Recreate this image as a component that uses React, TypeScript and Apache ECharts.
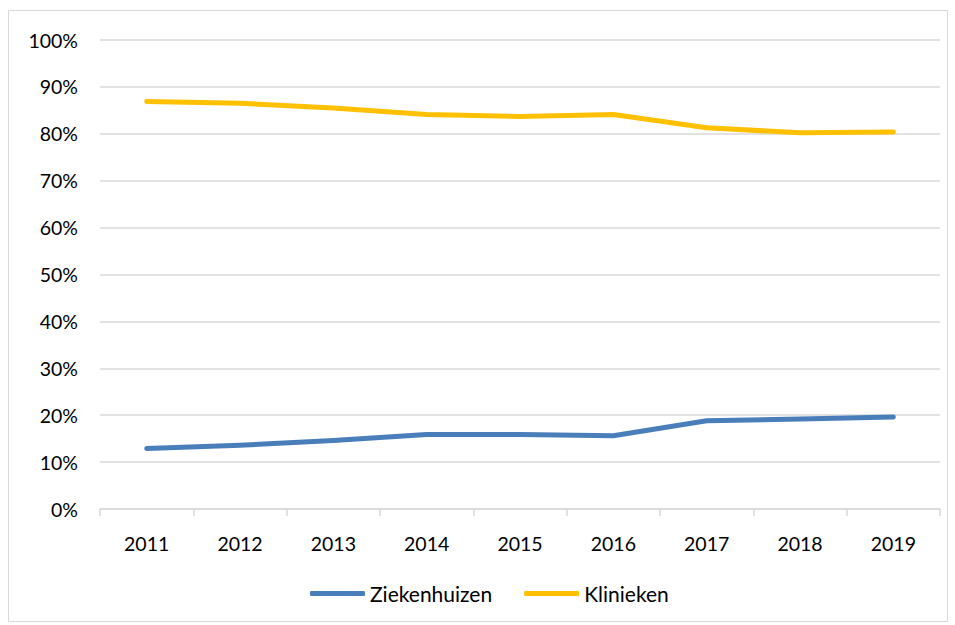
import React, { useEffect, useRef } from "react";
import * as echarts from "echarts";

const years = ["2011", "2012", "2013", "2014", "2015", "2016", "2017", "2018", "2019"];
const ziekenhuizen = [12.9, 13.6, 14.6, 15.9, 15.9, 15.6, 18.8, 19.2, 19.6];
const klinieken = [86.9, 86.5, 85.5, 84.1, 83.7, 84.1, 81.3, 80.2, 80.4];

export default function App() {
  const ref = useRef<HTMLDivElement>(null);
  useEffect(() => {
    document.body.style.margin = "0";
    const chart = echarts.init(ref.current!, null, { renderer: "svg" });
    const font = "Lato, 'Open Sans', sans-serif";
    chart.setOption({
      animation: false,
      backgroundColor: "#ffffff",
      textStyle: { fontFamily: font },
      graphic: [
        {
          type: "rect",
          shape: { x: 8.5, y: 10.5, width: 939, height: 611 },
          style: { fill: "none", stroke: "#d9d9d9", lineWidth: 1 },
          silent: true,
        },
      ],
      grid: { left: 100, right: 15, top: 40, bottom: 116, containLabel: false },
      legend: {
        top: 578,
        left: 305,
        itemWidth: 55,
        itemHeight: 5,
        itemGap: 32,
        itemTextGap: 4,
        icon: "roundRect",
        textStyle: { fontSize: 21, color: "#000", fontFamily: font },
        data: ["Ziekenhuizen", "Klinieken"],
      },
      xAxis: {
        type: "category",
        data: years,
        boundaryGap: true,
        axisLine: { lineStyle: { color: "#d9d9d9", width: 1.5 } },
        axisTick: { show: true, length: 7, lineStyle: { color: "#d9d9d9", width: 1.5 } },
        axisLabel: { color: "#000", fontSize: 19.5, margin: 24, fontFamily: font },
        splitLine: { show: false },
      },
      yAxis: {
        type: "value",
        min: 0,
        max: 100,
        interval: 10,
        axisLine: { show: false },
        axisTick: { show: false },
        axisLabel: { color: "#000", fontSize: 19.5, margin: 22, formatter: "{value}%", fontFamily: font },
        splitLine: { lineStyle: { color: "#d9d9d9", width: 1.5 } },
      },
      series: [
        {
          name: "Ziekenhuizen",
          type: "line",
          data: ziekenhuizen,
          symbol: "none",
          color: "#4a7ebb",
          lineStyle: { width: 5, color: "#4a7ebb", cap: "round", join: "round" },
        },
        {
          name: "Klinieken",
          type: "line",
          data: klinieken,
          symbol: "none",
          color: "#ffc000",
          lineStyle: { width: 5, color: "#ffc000", cap: "round", join: "round" },
        },
      ],
    });
    return () => chart.dispose();
  }, []);
  return <div ref={ref} style={{ width: 955, height: 625 }} />;
}
